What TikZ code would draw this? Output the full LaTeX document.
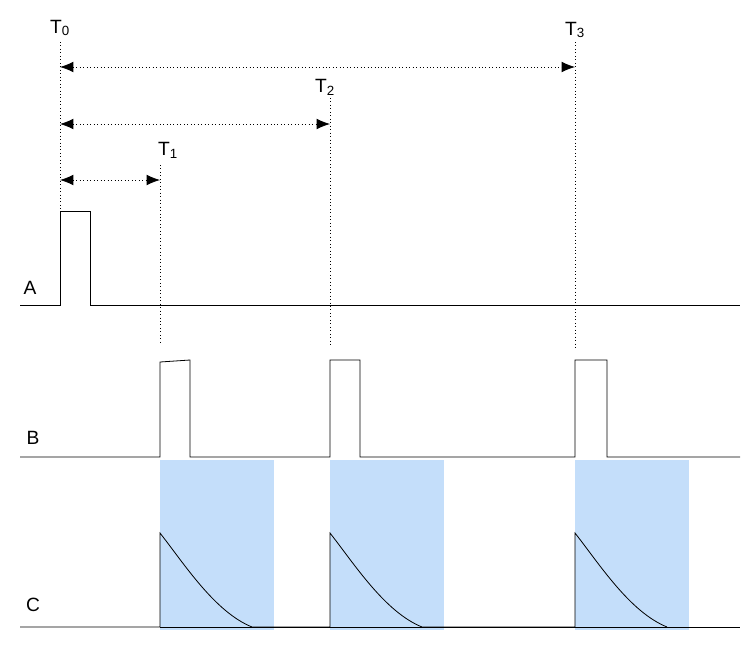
\documentclass[tikz,border=0pt]{standalone}
\usepackage{fontspec}
\setmainfont{Liberation Sans}
\usetikzlibrary{arrows.meta}
\definecolor{windowblue}{RGB}{196,222,250}
\begin{document}
\begin{tikzpicture}[x=0.75pt,y=-0.75pt,
signal/.style={black, line width=0.6pt},
guide/.style={black, dotted, line width=0.6pt},
span/.style={black, dotted, line width=0.6pt, {Latex[length=10pt,width=8pt]}-{Latex[length=10pt,width=8pt]}},
window/.style={fill=windowblue, draw=none},
tlabel/.style={font=\Large, inner sep=1pt}
]
\useasboundingbox (0,0) rectangle (754,647);
% labels for times
\node[tlabel](t0) at (60,28) {T\textsubscript{0}};
\node[tlabel](t1) at (168,150) {T\textsubscript{1}};
\node[tlabel](t2) at (325,87) {T\textsubscript{2}};
\node[tlabel](t3) at (575,30) {T\textsubscript{3}};
\coordinate (a0) at (60,67); \coordinate (a3) at (575,67);
\coordinate (b0) at (60,124); \coordinate (b2) at (330,124);
\coordinate (c0) at (60,180); \coordinate (c1) at (160,180);
\draw[span] (a0) -- (a3);
\draw[span] (b0) -- (b2);
\draw[span] (c0) -- (c1);
% guides
\draw[guide] (60,42) -- (60,305);
\draw[guide] (160,165) -- (160,345);
\draw[guide] (330,98) -- (330,345);
\draw[guide] (575,42) -- (575,350);
% response windows
\foreach \x in {160,330,575}
  \fill[window] (\x,460) rectangle ++(114,170);
% signal A
\node[font=\Large](lA) at (30,288) {A};
\draw[signal] (20,305) -- (60,305) -- (60,211) -- (90,211) -- (90,305) -- (740,305);
% signal B
\node[font=\Large](lB) at (33,438) {B};
\draw[signal] (20,457) -- (160,457) -- (160,362) -- (190,360) -- (190,457)
  -- (330,457) -- (330,360) -- (360,360) -- (360,457)
  -- (575,457) -- (575,360) -- (607,360) -- (607,457) -- (740,457);
% signal C
\node[font=\Large](lC) at (33,605) {C};
\draw[signal] (20,627) -- (160,627)
  \foreach \x in {160,330,575} { -- (\x,627) -- (\x,533) .. controls (\x+25,565) and (\x+55,612) .. (\x+92,627) };
\draw[signal] (160,627) -- (740,627);
\end{tikzpicture}
\end{document}
